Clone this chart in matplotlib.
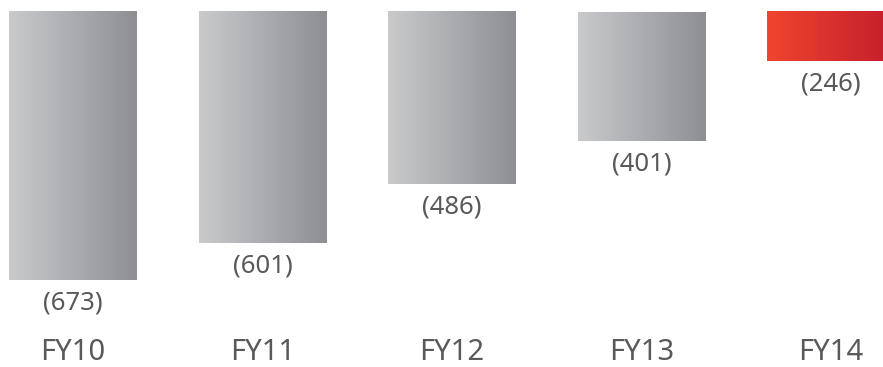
import numpy as np
import matplotlib
matplotlib.use("Agg")
import matplotlib.pyplot as plt
from matplotlib.colors import LinearSegmentedColormap
from matplotlib.transforms import blended_transform_factory

years = ['FY10', 'FY11', 'FY12', 'FY13', 'FY14']
losses = [673, 601, 486, 401, 246]

gray_cmap = LinearSegmentedColormap.from_list('gray_grad', ['#c9cacc', '#8e8f93'])
red_cmap = LinearSegmentedColormap.from_list('red_grad', ['#ef452f', '#c31d2b'])
text_color = '#58595b'

plt.rcParams['font.family'] = ['Noto Sans', 'DejaVu Sans']

fig = plt.figure(figsize=(8.83, 3.67), dpi=100)
ax = fig.add_axes([0, 0, 1, 355 / 367])
ax.set_xlim(-0.385, 4.274)
ax.set_ylim(-842, -150)
ax.axis('off')

x = np.arange(len(years))
bars = ax.bar(x, [-v for v in losses], width=0.675, color='none', edgecolor='none')

# horizontal gradient fill, clipped to each bar and to the top of the axes
grad = np.linspace(0, 1, 256).reshape(1, -1)
y_top = ax.get_ylim()[1]
for i, patch in enumerate(bars.patches):
    cmap = red_cmap if i == len(bars.patches) - 1 else gray_cmap
    x0, w = patch.get_x(), patch.get_width()
    y_low = patch.get_y() + patch.get_height()
    im = ax.imshow(grad, cmap=cmap, aspect='auto', interpolation='bicubic',
                   extent=[x0, x0 + w, y_low, y_top], zorder=2)
    im.set_clip_path(patch)

# value labels under each bar
for xi, v in zip(x, losses):
    ax.annotate('({})'.format(v), xy=(xi, -v), xytext=(0, -23),
                textcoords='offset pixels', ha='center', va='center',
                fontsize=18.5, color=text_color, annotation_clip=False)

# category labels along the bottom
trans = blended_transform_factory(ax.transData, fig.transFigure)
for xi, name in zip(x, years):
    fig.text(xi, 1 - 352 / 367, name, transform=trans, ha='center', va='center',
             fontsize=21, color=text_color)

ax.set_ylim(-842, y_top)
fig.savefig('out.png', dpi=100)
